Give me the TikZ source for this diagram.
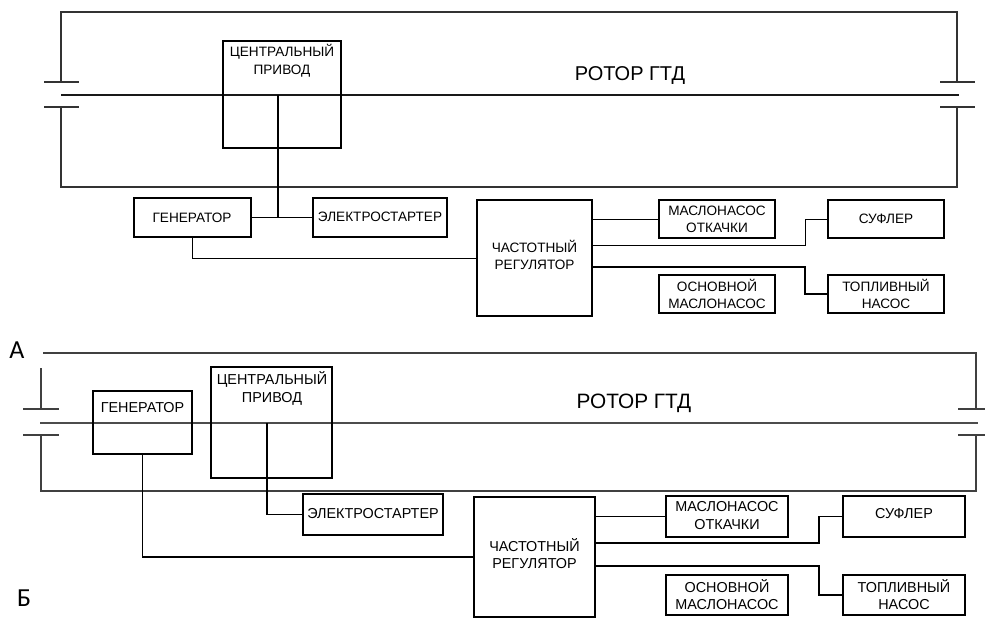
\documentclass[tikz,border=0pt]{standalone}
\usepackage{fontspec}
\setmainfont{Liberation Sans}
\newfontfamily\lblfont{Carlito}
\usetikzlibrary{fit}
\begin{document}
\begin{tikzpicture}[x=0.75pt,y=-0.75pt,
  frameA/.style={line width=0.9pt, draw=black!80},
  frameB/.style={line width=1.1pt, draw=black!75},
  shaftA/.style={line width=1.8pt, draw=black!90},
  shaftB/.style={line width=1.2pt, draw=black!70},
  boxA/.style={draw, line width=1pt, inner sep=0pt},
  boxB/.style={draw, line width=1.3pt, inner sep=0pt},
  txtA/.style={inner sep=0pt, align=center, font=\fontsize{10.2}{12.6}\selectfont},
  txtB/.style={inner sep=0pt, align=center, font=\fontsize{10.8}{12.8}\selectfont},
  connA/.style={line width=0.75pt},
  connAthick/.style={line width=1.3pt},
  connB/.style={line width=1.2pt},
  rotor/.style={inner sep=0pt, font=\fontsize{15}{18}\selectfont},
  partlabel/.style={inner sep=0pt, font=\lblfont\fontsize{19.5}{22}\selectfont}
]
\useasboundingbox (0,0) rectangle (985,619);

%================ TOP DIAGRAM =================
% frame
\draw[frameA] (61,82) -- (61,12) -- (957,12) -- (957,82);
\draw[frameA] (61,107) -- (61,187) -- (957,187) -- (957,107);
\draw[frameA] (44,82) -- (79,82);
\draw[frameA] (44,107) -- (79,107);
\draw[frameA] (940,82) -- (975,82);
\draw[frameA] (940,107) -- (975,107);
% shaft
\draw[shaftA] (61,95) -- (959,95);
\node[rotor] (rotA) at (630,76) {РОТОР ГТД};

% boxes
\node[boxA, fit={(223,41) (341,148)}] (cpA) {};
\node[txtA, font=\fontsize{10.2}{13.5}\selectfont] (cpAt) at (282,61) {ЦЕНТРАЛЬНЫЙ\\ПРИВОД};
\node[boxA, fit={(134,198) (251,237)}] (genA) {};
\node[txtA] (genAt) at (192,218) {ГЕНЕРАТОР};
\node[boxA, fit={(313,198) (447,237)}] (estA) {};
\node[txtA] (estAt) at (380,217) {ЭЛЕКТРОСТАРТЕР};
\node[boxA, fit={(477,200) (592,316)}] (regA) {};
\node[txtA] (regAt) at (534.5,255) {ЧАСТОТНЫЙ\\РЕГУЛЯТОР};
\node[boxA, fit={(659,200) (775,238)}] (moA) {};
\node[txtA] (moAt) at (717,219) {МАСЛОНАСОС\\ОТКАЧКИ};
\node[boxA, fit={(828,200) (944,238)}] (sufA) {};
\node[txtA] (sufAt) at (886,219) {СУФЛЕР};
\node[boxA, fit={(659,275) (775,313)}] (omA) {};
\node[txtA] (omAt) at (717,294) {ОСНОВНОЙ\\МАСЛОНАСОС};
\node[boxA, fit={(828,275) (944,313)}] (tnA) {};
\node[txtA] (tnAt) at (886,294) {ТОПЛИВНЫЙ\\НАСОС};

% connectors
\coordinate (sA) at (278,95);
\coordinate (jA) at (278,217.5);
\draw[connAthick] (sA) -- (jA);
\draw[connAthick] (genA.east) -- (estA.west);
\draw[connA] (genA.south) |- (regA.west);
\draw[connA] (regA.east |- moA.west) -- (moA.west);
\coordinate (sufAa) at (805,245);
\draw[connA] (regA.east |- sufAa) -- (sufAa) |- (sufA.west);
\coordinate (tnAa) at (805,267);
\draw[connAthick] (regA.east |- tnAa) -- (tnAa) |- (tnA.west);

\node[partlabel] (labA) at (17,350) {А};

%================ BOTTOM DIAGRAM =================
\draw[frameB] (43,353) -- (976,353) -- (976,409);
\draw[frameB] (41,368) -- (41,409);
\draw[frameB] (41,435) -- (41,491) -- (976,491) -- (976,435);
\draw[frameB] (23,409) -- (59,409);
\draw[frameB] (23,435) -- (59,435);
\draw[frameB] (958,409) -- (985,409);
\draw[frameB] (958,435) -- (985,435);
% shaft
\draw[shaftB] (40,423) -- (978,423);
\node[rotor, font=\fontsize{15.6}{18}\selectfont] (rotB) at (634,403) {РОТОР ГТД};

% boxes
\node[boxB, fit={(93,391) (192,454)}] (genB) {};
\node[txtB] (genBt) at (142.5,408) {ГЕНЕРАТОР};
\node[boxB, fit={(211,367) (332,478)}] (cpB) {};
\node[txtB, font=\fontsize{10.8}{13}\selectfont] (cpBt) at (272,388.5) {ЦЕНТРАЛЬНЫЙ\\ПРИВОД};
\node[boxB, fit={(303,494) (443,535)}] (estB) {};
\node[txtB] (estBt) at (373,514) {ЭЛЕКТРОСТАРТЕР};
\node[boxB, fit={(474,497) (595,617)}] (regB) {};
\node[txtB] (regBt) at (534.5,553.5) {ЧАСТОТНЫЙ\\РЕГУЛЯТОР};
\node[boxB, fit={(666,496) (788,537)}] (moB) {};
\node[txtB] (moBt) at (727,515.5) {МАСЛОНАСОС\\ОТКАЧКИ};
\node[boxB, fit={(843,496) (965,537)}] (sufB) {};
\node[txtB] (sufBt) at (904,514) {СУФЛЕР};
\node[boxB, fit={(666,575) (788,615)}] (omB) {};
\node[txtB] (omBt) at (727,595) {ОСНОВНОЙ\\МАСЛОНАСОС};
\node[boxB, fit={(843,575) (965,615)}] (tnB) {};
\node[txtB] (tnBt) at (904,595) {ТОПЛИВНЫЙ\\НАСОС};

% connectors
\coordinate (sB) at (267,423);
\draw[connB] (sB) |- (estB.west);
\draw[connB] (genB.south) |- (regB.west);
\draw[connB] (regB.east |- moB.west) -- (moB.west);
\coordinate (sufBa) at (819,543);
\draw[connB] (regB.east |- sufBa) -- (sufBa) |- (sufB.west);
\coordinate (tnBa) at (819,566);
\draw[connB] (regB.east |- tnBa) -- (tnBa) |- (tnB.west);

\node[partlabel] (labB) at (24,598) {Б};
\end{tikzpicture}
\end{document}
